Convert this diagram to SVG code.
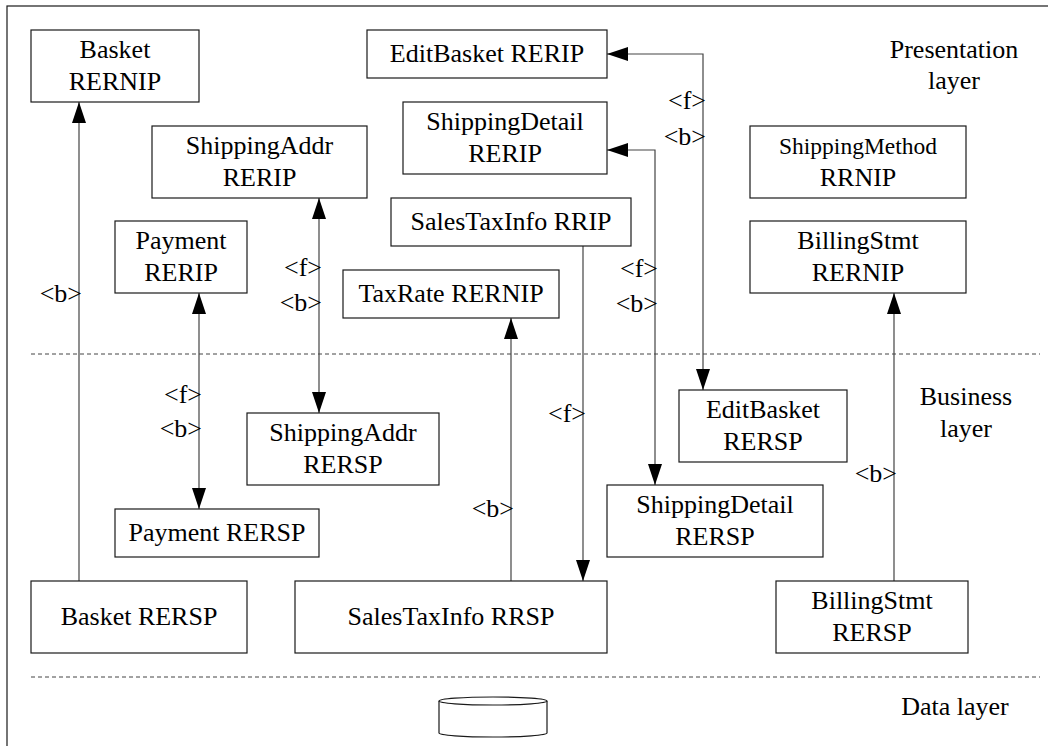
<svg xmlns="http://www.w3.org/2000/svg" width="1048" height="746" viewBox="0 0 1048 746">
<style>
.box{fill:#fff;stroke:#1a1a1a;stroke-width:1.2}
.t{font-family:"Liberation Serif","Times New Roman",serif;font-size:26px;fill:#000;text-anchor:middle}
.sm{font-size:23.5px}
.lbl{font-family:"Liberation Serif","Times New Roman",serif;font-size:26px;fill:#000;text-anchor:end}
.con{fill:none;stroke:#444;stroke-width:1.2}
.dash{fill:none;stroke:#444;stroke-width:1;stroke-dasharray:4 3}
</style>
<defs>
<marker id="ah" markerUnits="userSpaceOnUse" markerWidth="22" markerHeight="14" refX="21" refY="7" orient="auto-start-reverse" viewBox="0 0 21 14">
<path d="M0,0 L21,7 L0,14 z" fill="#000"/>
</marker>
</defs>
<rect x="7" y="6" width="1050" height="750" fill="#fff" stroke="#1a1a1a" stroke-width="1.2"/>
<g id="layers">
<line class="dash" x1="31" y1="354" x2="1040" y2="354"/>
<line class="dash" x1="31" y1="677" x2="1040" y2="677"/>
<text class="t" x="954" y="58">Presentation</text>
<text class="t" x="954" y="89">layer</text>
<text class="t" x="966" y="405">Business</text>
<text class="t" x="966" y="437">layer</text>
<text class="t" x="955" y="715">Data layer</text>
</g>
<g id="database">
<path d="M439,701 L439,733 A54,4 0 0 0 547,733 L547,701" fill="#fff" stroke="#1a1a1a" stroke-width="1.2"/>
<ellipse cx="493" cy="701" rx="54" ry="4" fill="#fff" stroke="#1a1a1a" stroke-width="1.2"/>
</g>
<g id="connectors">
<path class="con" d="M79,581 V102" marker-end="url(#ah)"/>
<path class="con" d="M199,293 V509" marker-start="url(#ah)" marker-end="url(#ah)"/>
<path class="con" d="M319,198 V413" marker-start="url(#ah)" marker-end="url(#ah)"/>
<path class="con" d="M511,581 V318" marker-end="url(#ah)"/>
<path class="con" d="M583,246 V581" marker-end="url(#ah)"/>
<path class="con" d="M607,54 H703 V390" marker-start="url(#ah)" marker-end="url(#ah)"/>
<path class="con" d="M607,150 H655 V485" marker-start="url(#ah)" marker-end="url(#ah)"/>
<path class="con" d="M894,581 V293" marker-end="url(#ah)"/>
<text class="lbl" x="82" y="302">&lt;b&gt;</text>
<text class="lbl" x="202" y="403">&lt;f&gt;</text>
<text class="lbl" x="202" y="437">&lt;b&gt;</text>
<text class="lbl" x="322" y="276">&lt;f&gt;</text>
<text class="lbl" x="322" y="311">&lt;b&gt;</text>
<text class="lbl" x="514" y="517">&lt;b&gt;</text>
<text class="lbl" x="586" y="422">&lt;f&gt;</text>
<text class="lbl" x="706" y="109">&lt;f&gt;</text>
<text class="lbl" x="706" y="145">&lt;b&gt;</text>
<text class="lbl" x="658" y="277">&lt;f&gt;</text>
<text class="lbl" x="658" y="312">&lt;b&gt;</text>
<text class="lbl" x="897" y="482">&lt;b&gt;</text>
</g>
<g id="basket_rernip"><rect class="box" x="31" y="30" width="168" height="72"/><text class="t" x="115" y="58">Basket</text><text class="t" x="115" y="90">RERNIP</text></g>
<g id="shippingaddr_rerip"><rect class="box" x="152" y="126" width="215" height="72"/><text class="t" x="259.5" y="154">ShippingAddr</text><text class="t" x="259.5" y="186">RERIP</text></g>
<g id="payment_rerip"><rect class="box" x="115" y="221" width="132" height="72"/><text class="t" x="181" y="249">Payment</text><text class="t" x="181" y="281">RERIP</text></g>
<g id="editbasket_rerip"><rect class="box" x="367" y="30" width="240" height="48"/><text class="t" x="487" y="62">EditBasket RERIP</text></g>
<g id="shippingdetail_rerip"><rect class="box" x="403" y="102" width="204" height="72"/><text class="t" x="505" y="130">ShippingDetail</text><text class="t" x="505" y="162">RERIP</text></g>
<g id="salestaxinfo_rrip"><rect class="box" x="391" y="198" width="240" height="48"/><text class="t" x="511" y="230">SalesTaxInfo RRIP</text></g>
<g id="shippingmethod_rrnip"><rect class="box" x="750" y="126" width="216" height="72"/><text class="t sm" x="858" y="154">ShippingMethod</text><text class="t" x="858" y="186">RRNIP</text></g>
<g id="billingstmt_rernip"><rect class="box" x="750" y="221" width="216" height="72"/><text class="t" x="858" y="249">BillingStmt</text><text class="t" x="858" y="281">RERNIP</text></g>
<g id="taxrate_rernip"><rect class="box" x="343" y="270" width="216" height="48"/><text class="t" x="451" y="302">TaxRate RERNIP</text></g>
<g id="shippingaddr_rersp"><rect class="box" x="247" y="413" width="192" height="72"/><text class="t" x="343" y="441">ShippingAddr</text><text class="t" x="343" y="473">RERSP</text></g>
<g id="editbasket_rersp"><rect class="box" x="679" y="390" width="168" height="72"/><text class="t" x="763" y="418">EditBasket</text><text class="t" x="763" y="450">RERSP</text></g>
<g id="shippingdetail_rersp"><rect class="box" x="607" y="485" width="216" height="72"/><text class="t" x="715" y="513">ShippingDetail</text><text class="t" x="715" y="545">RERSP</text></g>
<g id="payment_rersp"><rect class="box" x="115" y="509" width="204" height="48"/><text class="t" x="217" y="541">Payment RERSP</text></g>
<g id="basket_rersp"><rect class="box" x="31" y="581" width="216" height="72"/><text class="t" x="139" y="625">Basket RERSP</text></g>
<g id="salestaxinfo_rrsp"><rect class="box" x="295" y="581" width="312" height="72"/><text class="t" x="451" y="625">SalesTaxInfo RRSP</text></g>
<g id="billingstmt_rersp"><rect class="box" x="776" y="581" width="192" height="72"/><text class="t" x="872" y="609">BillingStmt</text><text class="t" x="872" y="641">RERSP</text></g>
</svg>
